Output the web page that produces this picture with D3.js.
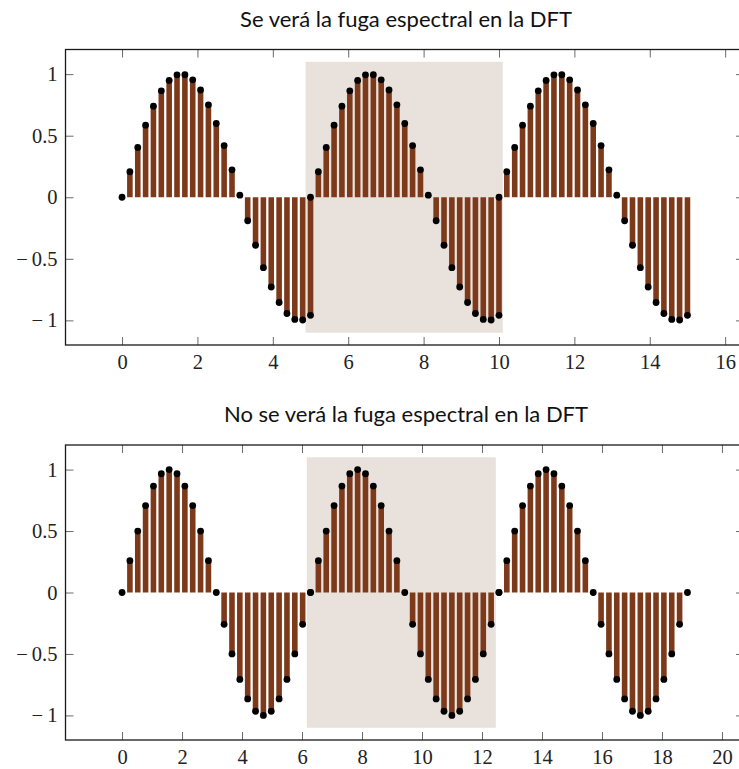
<!DOCTYPE html>
<html>
<head>
<meta charset="utf-8">
<script src="https://cdn.jsdelivr.net/npm/d3@7"></script>
<style>
  html, body { margin: 0; padding: 0; background: #fff; }
  svg { display: block; }
</style>
</head>
<body>
<svg id="chart" width="739" height="769"></svg>
<script>
// Upper plot: a sine segment of length 5 repeated three times (not a whole period per block)
const topX = [
  0, 0.208, 0.417, 0.625, 0.833, 1.042, 1.25, 1.458, 1.667, 1.875, 2.083, 2.292, 2.5,
  2.708, 2.917, 3.125, 3.333, 3.542, 3.75, 3.958, 4.167, 4.375, 4.583, 4.792, 5,
  5, 5.208, 5.417, 5.625, 5.833, 6.042, 6.25, 6.458, 6.667, 6.875, 7.083, 7.292, 7.5,
  7.708, 7.917, 8.125, 8.333, 8.542, 8.75, 8.958, 9.167, 9.375, 9.583, 9.792, 10,
  10, 10.208, 10.417, 10.625, 10.833, 11.042, 11.25, 11.458, 11.667, 11.875, 12.083, 12.292, 12.5,
  12.708, 12.917, 13.125, 13.333, 13.542, 13.75, 13.958, 14.167, 14.375, 14.583, 14.792, 15
];
const topY = [
  0, 0.207, 0.405, 0.585, 0.740, 0.864, 0.949, 0.994, 0.995, 0.954, 0.871, 0.751, 0.599,
  0.420, 0.223, 0.017, -0.191, -0.390, -0.572, -0.729, -0.855, -0.944, -0.992, -0.997, -0.959,
  0, 0.207, 0.405, 0.585, 0.740, 0.864, 0.949, 0.994, 0.995, 0.954, 0.871, 0.751, 0.599,
  0.420, 0.223, 0.017, -0.191, -0.390, -0.572, -0.729, -0.855, -0.944, -0.992, -0.997, -0.959,
  0, 0.207, 0.405, 0.585, 0.740, 0.864, 0.949, 0.994, 0.995, 0.954, 0.871, 0.751, 0.599,
  0.420, 0.223, 0.017, -0.191, -0.390, -0.572, -0.729, -0.855, -0.944, -0.992, -0.997, -0.959
];

// Lower plot: exactly one period (0 .. 2π) per block, three blocks
const botX = [
  0, 0.262, 0.524, 0.785, 1.047, 1.309, 1.571, 1.833, 2.094, 2.356, 2.618, 2.880, 3.142,
  3.403, 3.665, 3.927, 4.189, 4.451, 4.712, 4.974, 5.236, 5.498, 5.760, 6.021, 6.283,
  6.283, 6.545, 6.807, 7.069, 7.330, 7.592, 7.854, 8.116, 8.378, 8.639, 8.901, 9.163, 9.425,
  9.687, 9.948, 10.210, 10.472, 10.734, 10.996, 11.257, 11.519, 11.781, 12.043, 12.305, 12.566,
  12.566, 12.828, 13.090, 13.352, 13.614, 13.875, 14.137, 14.399, 14.661, 14.923, 15.184, 15.446, 15.708,
  15.970, 16.232, 16.493, 16.755, 17.017, 17.279, 17.541, 17.802, 18.064, 18.326, 18.588, 18.850
];
const botY = [
  0, 0.259, 0.5, 0.707, 0.866, 0.966, 1, 0.966, 0.866, 0.707, 0.5, 0.259, 0,
  -0.259, -0.5, -0.707, -0.866, -0.966, -1, -0.966, -0.866, -0.707, -0.5, -0.259, 0,
  0, 0.259, 0.5, 0.707, 0.866, 0.966, 1, 0.966, 0.866, 0.707, 0.5, 0.259, 0,
  -0.259, -0.5, -0.707, -0.866, -0.966, -1, -0.966, -0.866, -0.707, -0.5, -0.259, 0,
  0, 0.259, 0.5, 0.707, 0.866, 0.966, 1, 0.966, 0.866, 0.707, 0.5, 0.259, 0,
  -0.259, -0.5, -0.707, -0.866, -0.966, -1, -0.966, -0.866, -0.707, -0.5, -0.259, 0
];

// Highlighted window (x0, x1, y0, y1) for each plot
const topWindow = [4.87, 10.1, -1.1, 1.1];
const botWindow = [6.16, 12.46, -1.1, 1.1];

const topXTicks = [0, 2, 4, 6, 8, 10, 12, 14, 16];
const botXTicks = [0, 2, 4, 6, 8, 10, 12, 14, 16, 18, 20];
const yTicks = [-1, -0.5, 0, 0.5, 1];

const titles = [
  "Se verá la fuga espectral en la DFT",
  "No se verá la fuga espectral en la DFT"
];

const svg = d3.select("#chart");
const stemColor = "#7d3a1b";
const windowColor = "#e9e1db";
// math-style minus followed by a thin space
const fmt = v => (v < 0 ? "\u2212\u2009" : "") + Math.abs(v);

function drawPlot(cfg) {
  const { xs, ys, xDomain, top, bottom, left, right, xTicks, win, title } = cfg;
  const g = svg.append("g");
  const x = d3.scaleLinear().domain(xDomain).range([left, right]);
  const y = d3.scaleLinear().domain([-1.2, 1.2]).range([bottom, top]);

  g.append("text")
    .attr("x", 406).attr("y", top - 23)
    .attr("text-anchor", "middle")
    .attr("font-family", "Lato, 'Open Sans', sans-serif")
    .attr("font-size", 22)
    .attr("fill", "#111")
    .text(title);

  g.append("rect")
    .attr("x", x(win[0])).attr("width", x(win[1]) - x(win[0]))
    .attr("y", y(win[3])).attr("height", y(win[2]) - y(win[3]))
    .attr("fill", windowColor);

  const pts = xs.map((v, i) => ({ x: v, y: ys[i] }));

  g.append("g").selectAll("line").data(pts).join("line")
    .attr("x1", d => x(d.x)).attr("x2", d => x(d.x))
    .attr("y1", y(0)).attr("y2", d => y(d.y))
    .attr("stroke", stemColor).attr("stroke-width", 5.6);

  g.append("g").selectAll("circle").data(pts).join("circle")
    .attr("cx", d => x(d.x)).attr("cy", d => y(d.y))
    .attr("r", 3.4).attr("fill", "#000");

  const styleAxis = sel => {
    sel.select(".domain").remove();
    sel.selectAll(".tick line").attr("stroke", "#6a6a6a").attr("stroke-width", 1);
    sel.selectAll("text")
      .attr("font-family", "'Liberation Serif', 'DejaVu Serif', serif")
      .attr("font-size", 20.5).attr("fill", "#222");
  };

  g.append("g").attr("transform", `translate(0,${bottom})`)
    .call(d3.axisBottom(x).tickValues(xTicks).tickFormat(d3.format("d"))
      .tickSizeInner(-8).tickSizeOuter(0).tickPadding(9))
    .call(styleAxis);
  g.append("g").attr("transform", `translate(0,${top})`)
    .call(d3.axisTop(x).tickValues(xTicks).tickFormat("")
      .tickSizeInner(-8).tickSizeOuter(0))
    .call(styleAxis);
  g.append("g").attr("transform", `translate(${left},0)`)
    .call(d3.axisLeft(y).tickValues(yTicks).tickFormat(fmt)
      .tickSizeInner(-8).tickSizeOuter(0).tickPadding(8))
    .call(styleAxis);
  g.append("g").attr("transform", `translate(${right},0)`)
    .call(d3.axisRight(y).tickValues(yTicks).tickFormat("")
      .tickSizeInner(-8).tickSizeOuter(0))
    .call(styleAxis);

  g.append("rect")
    .attr("x", left).attr("y", top)
    .attr("width", right - left).attr("height", bottom - top)
    .attr("fill", "none").attr("stroke", "#1a1a1a").attr("stroke-width", 1.3);
}

drawPlot({
  xs: topX, ys: topY, xDomain: [-1.5, 16.5],
  top: 49.5, bottom: 345, left: 65.5, right: 744,
  xTicks: topXTicks, win: topWindow, title: titles[0]
});

drawPlot({
  xs: botX, ys: botY, xDomain: [-1.885, 20.735],
  top: 445, bottom: 740, left: 65.5, right: 744,
  xTicks: botXTicks, win: botWindow, title: titles[1]
});
</script>
</body>
</html>
